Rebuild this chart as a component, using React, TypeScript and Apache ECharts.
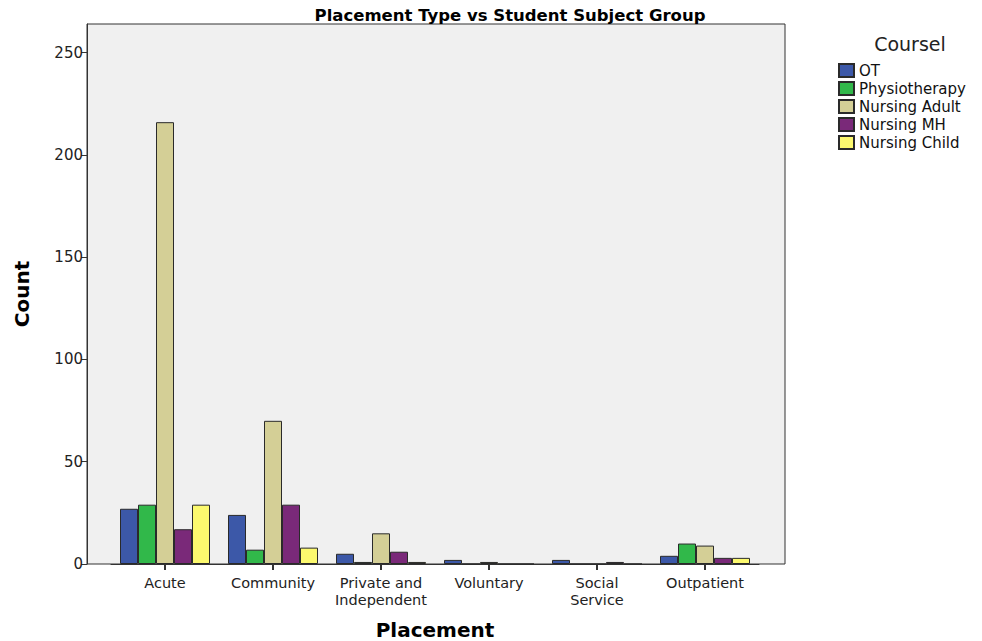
import React, { useEffect, useRef } from "react";
import * as echarts from "echarts";

const categories = ["Acute", "Community", "Private and\nIndependent", "Voluntary", "Social\nService", "Outpatient"];
const seriesNames = ["OT", "Physiotherapy", "Nursing Adult", "Nursing MH", "Nursing Child"];
const otValues = [27, 24, 5, 2, 2, 4];
const physioValues = [29, 7, 1, 0, 0, 10];
const nursingAdultValues = [216, 70, 15, 1, 0, 9];
const nursingMHValues = [17, 29, 6, 0, 1, 3];
const nursingChildValues = [29, 8, 1, 0, 0, 3];
const yTicks = [0, 50, 100, 150, 200, 250];
const colors = ["#3C58A8", "#31B84A", "#D4CF96", "#7A2979", "#FCF96E"];

const FONT = "DejaVu Sans";

export default function App() {
  const ref = useRef<HTMLDivElement>(null);
  useEffect(() => {
    if (!ref.current) return;
    const chart = echarts.init(ref.current, null, { renderer: "svg" });
    const values = [otValues, physioValues, nursingAdultValues, nursingMHValues, nursingChildValues];
    chart.setOption({
      animation: false,
      backgroundColor: "#ffffff",
      textStyle: { fontFamily: FONT },
      grid: { left: 111, width: 648, top: 24, height: 540, containLabel: false, outerBoundsMode: "none" },
      graphic: [
        {
          type: "rect",
          z: -10,
          shape: { x: 87, y: 24, width: 698, height: 540 },
          style: { fill: "#F0F0F0", stroke: "#333333", lineWidth: 1 },
          silent: true,
        },
        {
          type: "text",
          x: 510,
          y: 15,
          z: 100,
          style: {
            text: "Placement Type vs Student Subject Group",
            font: `bold 16.5px "${FONT}"`,
            fill: "#000000",
            textAlign: "center",
            textVerticalAlign: "middle",
          },
        },
        {
          type: "text",
          x: 910,
          y: 44,
          z: 100,
          style: {
            text: "Coursel",
            font: `19px "${FONT}"`,
            fill: "#222222",
            textAlign: "center",
            textVerticalAlign: "middle",
          },
        },
      ],
      legend: {
        orient: "vertical",
        left: 838,
        top: 63,
        itemWidth: 15,
        itemHeight: 13,
        itemGap: 3,
        icon: "rect",
        padding: 0,
        textStyle: { fontFamily: FONT, fontSize: 15, color: "#111111", lineHeight: 15 },
        data: seriesNames,
      },
      xAxis: {
        type: "category",
        data: categories,
        boundaryGap: true,
        name: "Placement",
        nameLocation: "middle",
        nameGap: 56,
        nameTextStyle: { fontFamily: FONT, fontSize: 20, fontWeight: "bold", color: "#000000" },
        axisLine: { show: true, lineStyle: { color: "#333333", width: 1 } },
        axisTick: { show: true, alignWithLabel: true, length: 6, lineStyle: { color: "#333333", width: 2 } },
        axisLabel: { fontFamily: FONT, fontSize: 14.5, color: "#222222", margin: 10, lineHeight: 17, interval: 0 },
        splitLine: { show: false },
      },
      yAxis: {
        type: "value",
        min: 0,
        max: 264,
        interval: 50,
        offset: 24,
        name: "Count",
        nameLocation: "middle",
        nameRotate: 90,
        nameGap: 55,
        nameTextStyle: { fontFamily: FONT, fontSize: 20, fontWeight: "bold", color: "#000000" },
        axisLine: { show: true, lineStyle: { color: "#333333", width: 1 } },
        axisTick: { show: true, length: 6, lineStyle: { color: "#333333", width: 1 }, customValues: yTicks },
        axisLabel: { fontFamily: FONT, fontSize: 15, color: "#222222", margin: 4, customValues: yTicks },
        splitLine: { show: false },
      },
      series: seriesNames.map((name, i) => ({
        name,
        type: "bar",
        data: values[i],
        barWidth: 18,
        barGap: "0%",
        itemStyle: { color: colors[i], borderColor: "#2a2a2a", borderWidth: 1 },
      })),
    });
    return () => chart.dispose();
  }, []);
  return <div ref={ref} style={{ position: "fixed", left: 0, top: 0, width: 982, height: 641 }} />;
}
